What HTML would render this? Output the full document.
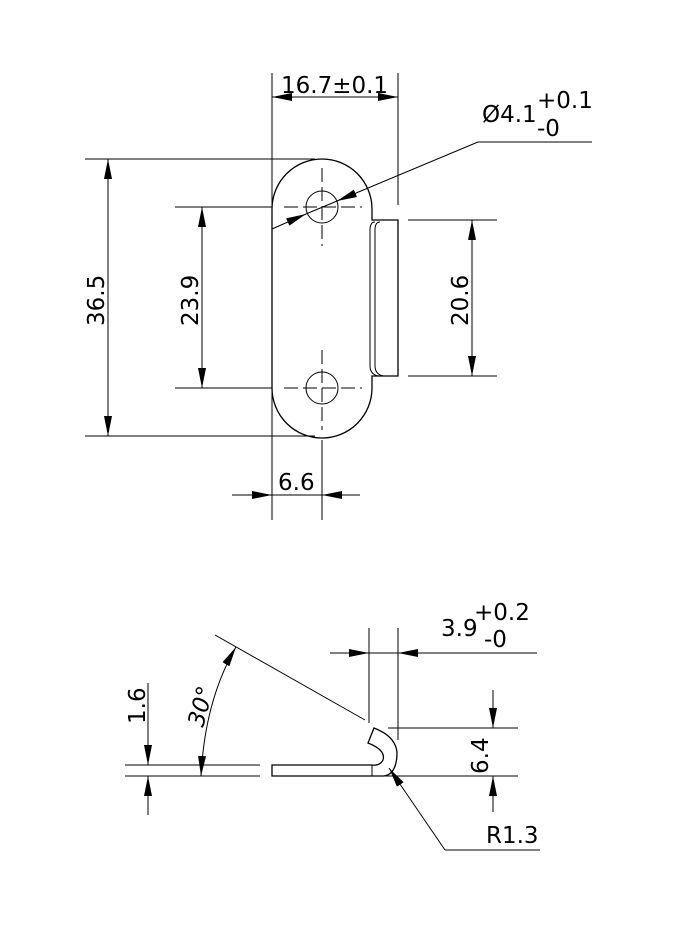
<!DOCTYPE html>
<html><head><meta charset="utf-8"><style>
html,body{margin:0;padding:0;background:#fff;}
svg{display:block;}
text{font-family:"DejaVu Sans","Liberation Sans",sans-serif;font-size:23px;fill:#000;}
</style></head><body>
<svg width="681" height="936" viewBox="0 0 681 936" xmlns="http://www.w3.org/2000/svg">
<defs>
<marker id="a" viewBox="0 0 20 8" refX="20" refY="4" markerWidth="20" markerHeight="8" orient="auto-start-reverse" markerUnits="userSpaceOnUse"><path d="M0,0 L20,4 L0,8 Z" fill="#000"/></marker>
</defs>
<g fill="none" stroke="#000" stroke-width="1">
<path d="M272,209 A50,50 0 0 1 372,209 L372,220 L398,220 L398,376 L372,376 L372,388 A50,50 0 0 1 272,388 Z" stroke-width="1.3"/>
<path d="M375,222 Q370,222 370,230 L370,366 Q370,374 378,376" />
<path d="M380,222 Q375,222 375,230 L375,366 Q375,374 383,376" />
<circle cx="322" cy="207" r="16"/>
<circle cx="322" cy="388" r="16"/>
<g stroke-dasharray="14,5">
<line x1="284" y1="207" x2="362" y2="207"/><line x1="322" y1="168" x2="322" y2="246"/>
<line x1="284" y1="388" x2="362" y2="388"/><line x1="322" y1="350" x2="322" y2="430"/>
</g>
<line x1="322" y1="440" x2="322" y2="520"/>
<line x1="272" y1="73" x2="272" y2="520"/>
<line x1="398" y1="73" x2="398" y2="205"/>
<line x1="272" y1="97" x2="398" y2="97" marker-start="url(#a)" marker-end="url(#a)"/>
<line x1="85" y1="159" x2="315" y2="159"/>
<line x1="85" y1="436" x2="315" y2="436"/>
<line x1="108" y1="159" x2="108" y2="436" marker-start="url(#a)" marker-end="url(#a)"/>
<line x1="175" y1="207" x2="272" y2="207"/>
<line x1="175" y1="388" x2="272" y2="388"/>
<line x1="202" y1="207" x2="202" y2="388" marker-start="url(#a)" marker-end="url(#a)"/>
<line x1="408" y1="220" x2="497" y2="220"/>
<line x1="408" y1="376" x2="497" y2="376"/>
<line x1="472" y1="220" x2="472" y2="376" marker-start="url(#a)" marker-end="url(#a)"/>
<line x1="232" y1="495" x2="272" y2="495" marker-end="url(#a)"/>
<line x1="360" y1="495" x2="322" y2="495" marker-end="url(#a)"/>
<line x1="272" y1="495" x2="322" y2="495"/>
<polyline points="272,229 306,214"  marker-end="url(#a)"/>
<polyline points="478,142 337,201" marker-end="url(#a)"/>
<line x1="306" y1="214" x2="337" y2="201"/>
<line x1="478" y1="142" x2="592" y2="142"/>
<line x1="125" y1="765" x2="260" y2="765"/>
<line x1="125" y1="776" x2="260" y2="776"/>
<path d="M372,765 L272,765 L272,776 L384,776" stroke-width="1.3"/>
<line x1="372" y1="765" x2="372" y2="776"/>
<path d="M384,776 Q397,774 397,752 Q395,736 374,728 L368,743 Q386,750 383,760 Q380,766 372,765" stroke-width="1.3"/>
<line x1="384" y1="776" x2="518" y2="776"/>
<line x1="369" y1="628" x2="369" y2="723"/>
<line x1="398" y1="628" x2="398" y2="740"/>
<line x1="330" y1="653" x2="369" y2="653" marker-end="url(#a)"/>
<line x1="537" y1="653" x2="398" y2="653" marker-end="url(#a)"/>
<line x1="369" y1="653" x2="398" y2="653"/>
<line x1="388" y1="728" x2="518" y2="728"/>
<line x1="493" y1="690" x2="493" y2="728" marker-end="url(#a)"/>
<line x1="493" y1="812" x2="493" y2="776" marker-end="url(#a)"/>
<line x1="148" y1="683" x2="148" y2="765" marker-end="url(#a)"/>
<line x1="148" y1="815" x2="148" y2="776" marker-end="url(#a)"/>
<line x1="215" y1="635" x2="365" y2="720"/>
<path d="M201,776 Q205,700 236,647" marker-start="url(#a)" marker-end="url(#a)"/>
<line x1="445" y1="850" x2="389" y2="768" marker-end="url(#a)"/>
<line x1="445" y1="850" x2="540" y2="850"/>
</g>
<text x="281" y="93">16.7±0.1</text>
<text x="482" y="122">Ø4.1</text>
<text x="537" y="108">+0.1</text>
<text x="537" y="136">-0</text>
<text x="278" y="490">6.6</text>
<text transform="translate(104,326) rotate(-90)">36.5</text>
<text transform="translate(198,326) rotate(-90)">23.9</text>
<text transform="translate(468,326) rotate(-90)">20.6</text>
<text x="441" y="636">3.9</text>
<text x="474" y="620">+0.2</text>
<text x="484" y="647">-0</text>
<text transform="translate(488,774) rotate(-90)">6.4</text>
<text transform="translate(145,724) rotate(-90)">1.6</text>
<text transform="translate(203,728) rotate(-75)" font-style="italic">30°</text>
<text x="486" y="843">R1.3</text>
</svg>
</body></html>
